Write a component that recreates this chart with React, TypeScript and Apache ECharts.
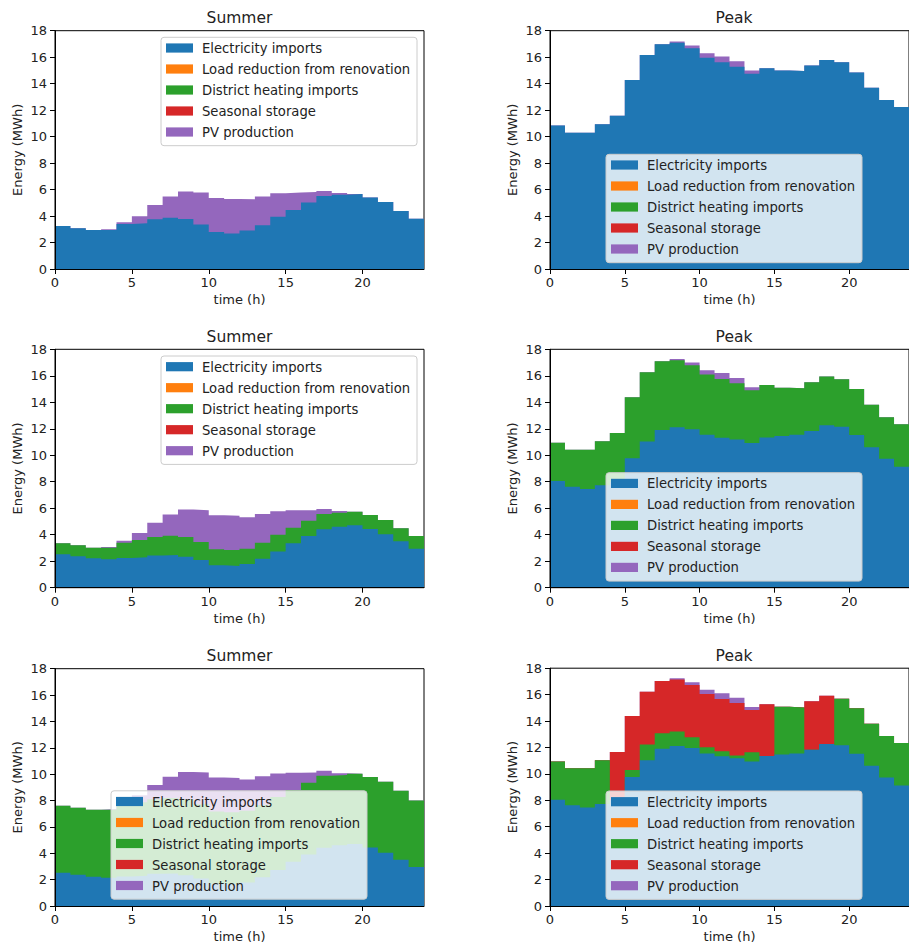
import React, { useEffect, useRef } from "react";
import * as echarts from "echarts";

// Hour-of-day at which each hourly step starts; the last step ends at 24 h.
const hourStarts = [0, 1, 2, 3, 4, 5, 6, 7, 8, 9, 10, 11, 12, 13, 14, 15, 16, 17, 18, 19, 20, 21, 22, 23];
const dayEnd = 24;
const timeTicks = [0, 5, 10, 15, 20];

const seriesNames = [
  "Electricity imports",
  "Load reduction from renovation",
  "District heating imports",
  "Seasonal storage",
  "PV production",
];
const seriesColors = ["#1f77b4", "#ff7f0e", "#2ca02c", "#d62728", "#9467bd"];

const noFlow = [0, 0, 0, 0, 0, 0, 0, 0, 0, 0, 0, 0, 0, 0, 0, 0, 0, 0, 0, 0, 0, 0, 0, 0];

// Summer day (MWh per hour)
const summerElecA = [3.25, 3.07, 2.95, 2.95, 3.4, 3.45, 3.75, 3.88, 3.78, 3.37, 2.79, 2.69, 2.9, 3.3, 3.95, 4.46, 5.03, 5.51, 5.61, 5.66, 5.41, 5.06, 4.38, 3.8];
const summerPv = [0, 0, 0, 0.06, 0.14, 0.53, 1.08, 1.6, 2.07, 2.4, 2.57, 2.6, 2.37, 2.17, 1.78, 1.31, 0.78, 0.38, 0.14, 0, 0, 0, 0, 0];
const summerElecB = [2.52, 2.37, 2.22, 2.14, 2.24, 2.29, 2.44, 2.47, 2.34, 2.09, 1.69, 1.64, 1.79, 2.19, 2.74, 3.35, 3.9, 4.41, 4.61, 4.71, 4.43, 4.03, 3.5, 2.95];
const summerHeatB = [0.83, 0.83, 0.8, 0.88, 1.16, 1.31, 1.39, 1.46, 1.49, 1.36, 1.21, 1.2, 1.16, 1.21, 1.26, 1.18, 1.16, 1.15, 1.05, 1.03, 1.06, 1.08, 0.98, 0.95];
const summerHeatC = [5.09, 5.09, 5.09, 5.16, 5.43, 5.58, 5.66, 5.73, 5.76, 5.63, 5.48, 5.47, 5.43, 5.48, 5.53, 5.45, 5.45, 5.47, 5.32, 5.32, 5.35, 5.4, 5.25, 5.06];

// Peak day (MWh per hour)
const peakElecA = [10.83, 10.3, 10.3, 10.93, 11.58, 14.27, 16.16, 16.97, 17.09, 16.67, 15.96, 15.61, 15.28, 14.75, 15.16, 15.0, 14.95, 15.38, 15.79, 15.61, 14.85, 13.7, 12.76, 12.24];
const peakPv = [0, 0, 0, 0, 0, 0, 0, 0, 0.09, 0.22, 0.33, 0.45, 0.41, 0.24, 0, 0, 0, 0, 0, 0, 0, 0, 0, 0];
const peakElecB = [8.05, 7.63, 7.45, 7.73, 8.0, 9.77, 11.04, 11.91, 12.11, 11.96, 11.54, 11.33, 11.19, 10.93, 11.35, 11.46, 11.54, 11.83, 12.26, 12.16, 11.53, 10.61, 9.73, 9.13];
const peakHeatB = [2.9, 2.79, 2.97, 3.32, 3.68, 4.61, 5.22, 5.18, 5.06, 4.83, 4.55, 4.43, 4.24, 3.97, 3.96, 3.64, 3.52, 3.68, 3.68, 3.58, 3.47, 3.21, 3.14, 3.21];
const peakHeatC = [2.89, 2.8, 2.98, 3.31, 0, 0.53, 1.18, 1.16, 1.09, 0.81, 0.48, 0.38, 0.2, 0.71, 0, 3.62, 3.49, 0, 0, 3.53, 3.43, 3.19, 3.14, 3.21];
const peakStorageC = [0, 0, 0, 0, 3.66, 4.08, 3.99, 3.97, 3.94, 3.95, 4.02, 3.95, 3.97, 3.19, 3.93, 0, 0, 3.66, 3.65, 0, 0, 0, 0, 0];

const FONT = '"DejaVu Sans", "Liberation Sans", sans-serif';
const TEXT = "#222222";

type Panel = {
  title: string;
  layers: number[][];
  rect: { left: number; top: number; width: number; height: number };
  legendAt: [number, number];
};

const panels: Panel[] = [
  {
    title: "Summer",
    layers: [summerElecA, noFlow, noFlow, noFlow, summerPv],
    rect: { left: 55, top: 30.7, width: 369, height: 238.3 },
    legendAt: [161, 37.3],
  },
  {
    title: "Peak",
    layers: [peakElecA, noFlow, noFlow, noFlow, peakPv],
    rect: { left: 550, top: 30.7, width: 368, height: 238.3 },
    legendAt: [606, 154.3],
  },
  {
    title: "Summer",
    layers: [summerElecB, noFlow, summerHeatB, noFlow, summerPv],
    rect: { left: 55, top: 349.3, width: 369, height: 238.4 },
    legendAt: [161, 356],
  },
  {
    title: "Peak",
    layers: [peakElecB, noFlow, peakHeatB, noFlow, peakPv],
    rect: { left: 550, top: 349.3, width: 368, height: 238.4 },
    legendAt: [606, 472.7],
  },
  {
    title: "Summer",
    layers: [summerElecB, noFlow, summerHeatC, noFlow, summerPv],
    rect: { left: 55, top: 668.7, width: 369, height: 237.4 },
    legendAt: [111, 790.8],
  },
  {
    title: "Peak",
    layers: [peakElecB, noFlow, peakHeatC, peakStorageC, peakPv],
    rect: { left: 550, top: 668.2, width: 368, height: 238.5 },
    legendAt: [606, 791],
  },
];

// Running totals of the layers, bottom to top (stacked area tops).
function cumulativeTops(layers: number[][]): number[][] {
  const tops: number[][] = [];
  layers.forEach((vals, k) => {
    tops.push(vals.map((v, i) => (k === 0 ? 0 : tops[k - 1][i]) + v));
  });
  return tops;
}

// Post-step points: each hourly value holds until the next hour, closing at 24 h.
function stepPoints(values: number[]): number[][] {
  const pts = values.map((v, i) => [hourStarts[i], +v.toFixed(4)]);
  pts.push([dayEnd, +values[values.length - 1].toFixed(4)]);
  return pts;
}

function legendElements(x: number, y: number): any[] {
  const els: any[] = [
    {
      type: "rect",
      z: 100,
      shape: { x, y, width: 256, height: 108.4, r: 3 },
      style: { fill: "rgba(255,255,255,0.8)", stroke: "#cccccc", lineWidth: 1 },
      silent: true,
    },
  ];
  seriesNames.forEach((name, k) => {
    const cy = y + 10.7 + k * 21;
    els.push({
      type: "rect",
      z: 101,
      shape: { x: x + 5, y: cy - 4.6, width: 27, height: 9.2 },
      style: { fill: seriesColors[k] },
      silent: true,
    });
    els.push({
      type: "text",
      z: 101,
      silent: true,
      style: {
        x: x + 41,
        y: cy + 0.5,
        text: name,
        fill: TEXT,
        font: `13.2px ${FONT}`,
        fontSize: 13.2,
        fontFamily: FONT,
        textAlign: "left",
        align: "left",
        textVerticalAlign: "middle",
        verticalAlign: "middle",
      },
    });
  });
  return els;
}

export default function App() {
  const ref = useRef<HTMLDivElement>(null);

  useEffect(() => {
    if (!ref.current) return;
    const chart = echarts.init(ref.current, undefined, { renderer: "svg" });

    const grids = panels.map((p) => ({
      ...p.rect,
      show: true,
      borderColor: "#000",
      borderWidth: 1,
      backgroundColor: "transparent",
      containLabel: false,
    }));

    const titles = panels.map((p) => ({
      text: p.title,
      left: p.rect.left + p.rect.width / 2,
      top: p.rect.top - 20.5,
      textAlign: "center",
      padding: 0,
      textStyle: { fontSize: 15.5, fontWeight: "normal", color: TEXT, fontFamily: FONT },
    }));

    const xAxes = panels.map((_, i) => ({
      type: "value",
      gridIndex: i,
      min: 0,
      max: dayEnd,
      z: 10,
      name: "time (h)",
      nameLocation: "middle",
      nameGap: 24,
      nameTextStyle: { fontSize: 13, color: TEXT, fontFamily: FONT },
      axisLine: { show: true, onZero: false, lineStyle: { color: "#000", width: 1 } },
      axisTick: { show: true, length: 5, customValues: timeTicks, lineStyle: { color: "#000", width: 1 } },
      axisLabel: { customValues: timeTicks, fontSize: 13, color: TEXT, fontFamily: FONT, margin: 7 },
      splitLine: { show: false },
    }));

    const yAxes = panels.map((_, i) => ({
      type: "value",
      gridIndex: i,
      min: 0,
      max: 18,
      interval: 2,
      z: 10,
      name: "Energy (MWh)",
      nameLocation: "middle",
      nameGap: 31,
      nameRotate: 90,
      nameTextStyle: { fontSize: 13, color: TEXT, fontFamily: FONT },
      axisLine: { show: true, lineStyle: { color: "#000", width: 1 } },
      axisTick: { show: true, length: 5, lineStyle: { color: "#000", width: 1 } },
      axisLabel: { fontSize: 13, color: TEXT, fontFamily: FONT, margin: 8 },
      splitLine: { show: false },
    }));

    // Each layer is filled from zero up to its running total; the topmost layer
    // is drawn first so that the lower layers paint over it. Layers that are
    // empty for the whole day add no area and are left out.
    const series: any[] = [];
    panels.forEach((p, i) => {
      const tops = cumulativeTops(p.layers);
      for (let k = tops.length - 1; k >= 0; k--) {
        if (!p.layers[k].some((v) => v > 0)) continue;
        series.push({
          type: "line",
          name: seriesNames[k],
          xAxisIndex: i,
          yAxisIndex: i,
          step: "end",
          symbol: "none",
          silent: true,
          z: 2 + (tops.length - k) * 0.01,
          data: stepPoints(tops[k]),
          itemStyle: { color: seriesColors[k] },
          lineStyle: { width: 0, color: seriesColors[k] },
          areaStyle: { color: seriesColors[k], opacity: 1, origin: "start" },
        });
      }
    });

    const graphic: any[] = [];
    panels.forEach((p) => graphic.push(...legendElements(p.legendAt[0], p.legendAt[1])));

    chart.setOption({
      animation: false,
      backgroundColor: "#ffffff",
      textStyle: { fontFamily: FONT },
      title: titles,
      grid: grids,
      xAxis: xAxes,
      yAxis: yAxes,
      series,
      graphic: { elements: graphic },
    });

    return () => chart.dispose();
  }, []);

  return (
    <div
      ref={ref}
      style={{ position: "fixed", left: 0, top: 0, width: 909, height: 944, background: "#fff" }}
    />
  );
}
